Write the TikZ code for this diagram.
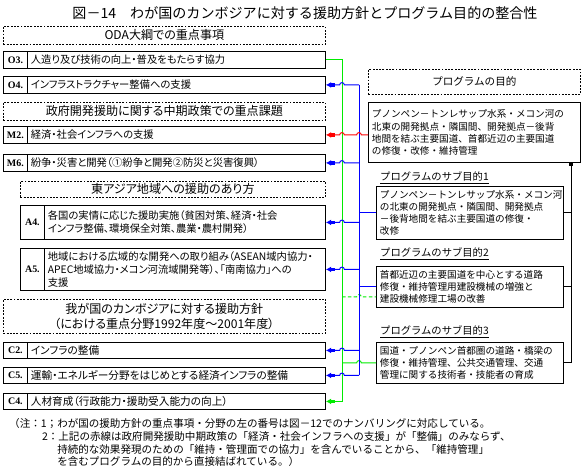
\documentclass[tikz,border=0pt]{standalone}
\usepackage{fontspec}
\setmainfont{Noto Sans CJK JP}
\newfontfamily\propfont[RawFeature=+palt]{Noto Sans CJK JP}
\newfontfamily\tagfont{Liberation Serif}
\usetikzlibrary{arrows.meta,calc}

\definecolor{linkgreen}{RGB}{0,235,0}
\definecolor{linkblue}{RGB}{0,0,255}
\definecolor{linkred}{RGB}{255,0,0}

\begin{document}
\begin{tikzpicture}[
    x=0.03cm, y=-0.03cm,
    head/.style={draw, dash pattern=on 1.6pt off 1.2pt, line width=0.6pt, anchor=north west, align=center, inner sep=0pt, font=\propfont\fontsize{10.3}{12.5}\selectfont},
    tag/.style={draw, line width=0.7pt, anchor=north west, minimum width=0.72cm, inner sep=0pt, font=\tagfont\bfseries\fontsize{8.5}{10}\selectfont},
    item/.style={draw, line width=0.7pt, anchor=north west, align=left, text width=#1, inner xsep=3pt, inner ysep=0pt, font=\propfont\fontsize{8.8}{11}\selectfont},
    item/.default=8.73cm,
    goal/.style={draw, line width=0.7pt, anchor=north west, align=left, text width=#1, inner xsep=3pt, inner ysep=0pt, font=\fontsize{8.2}{10.3}\selectfont},
    goal/.default=5.4cm,
    sublabel/.style={anchor=west, inner sep=0pt, font=\fontsize{8.8}{10}\selectfont},
    link/.style={line width=0.8pt, {Latex[length=4.5pt,width=5pt]Square[length=3pt,width=3pt]}-},
    hop/.style={line width=0.8pt}
]
    \useasboundingbox (0,0) rectangle (585,470);

    % Title
    \node[font=\fontsize{12}{14}\selectfont] (title) at (305,13) {図－14　わが国のカンボジアに対する援助方針とプログラム目的の整合性};

    % ODA charter
    \node[head, minimum width=9.66cm, minimum height=0.54cm] (odahead) at (3,26) {ODA大綱での重点事項};
    \node[tag, minimum height=0.51cm] (O3tag) at (3,51) {O3.};
    \node[item, minimum height=0.51cm] (O3) at (27,51) {人造り及び技術の向上・普及をもたらす協力};
    \node[tag, minimum height=0.51cm] (O4tag) at (3,76) {O4.};
    \node[item, minimum height=0.51cm] (O4) at (27,76) {インフラストラクチャー整備への支援};

    % Medium-term policy
    \node[head, minimum width=9.66cm, minimum height=0.54cm] (midhead) at (3,102) {政府開発援助に関する中期政策での重点課題};
    \node[tag, minimum height=0.51cm] (M2tag) at (3,126) {M2.};
    \node[item, minimum height=0.51cm] (M2) at (27,126) {経済・社会インフラへの支援};
    \node[tag, minimum height=0.51cm] (M6tag) at (3,154) {M6.};
    \node[item, minimum height=0.51cm] (M6) at (27,154) {紛争・災害と開発（①紛争と開発②防災と災害復興）};

    % East Asia
    \node[head, minimum width=9.15cm, minimum height=0.48cm] (asiahead) at (20,181) {東アジア地域への援助のあり方};
    \node[tag, minimum height=1.02cm] (A4tag) at (20,205) {A4.};
    \node[item=8.22cm, minimum height=1.02cm] (A4) at (44,205) {各国の実情に応じた援助実施（貧困対策、経済・社会\\インフラ整備、環境保全対策、農業・農村開発）};
    \node[tag, minimum height=1.26cm] (A5tag) at (20,248) {A5.};
    \node[item=8.22cm, minimum height=1.26cm] (A5) at (44,248) {地域における広域的な開発への取り組み（ASEAN域内協力・\\APEC地域協力・メコン河流域開発等）、「南南協力」への\\支援};

    % Cambodia policy
    \node[head, minimum width=9.66cm, minimum height=1.02cm] (camhead) at (3,299) {我が国のカンボジアに対する援助方針\\（における重点分野1992年度～2001年度）};
    \node[tag, minimum height=0.48cm] (C2tag) at (3,342) {C2.};
    \node[item, minimum height=0.48cm, font=\propfont\fontsize{9.1}{11}\selectfont] (C2) at (27,342) {インフラの整備};
    \node[tag, minimum height=0.48cm] (C5tag) at (3,367) {C5.};
    \node[item, minimum height=0.48cm, font=\propfont\fontsize{9.1}{11}\selectfont] (C5) at (27,367) {運輸・エネルギー分野をはじめとする経済インフラの整備};
    \node[tag, minimum height=0.48cm] (C4tag) at (3,393) {C4.};
    \node[item, minimum height=0.48cm, font=\propfont\fontsize{9.1}{11}\selectfont] (C4) at (27,393) {人材育成（行政能力・援助受入能力の向上）};

    % Program goals
    \node[head, minimum width=6.36cm, minimum height=0.75cm, font=\fontsize{9}{11}\selectfont] (goalhead) at (368,69) {プログラムの目的};
    \node[goal=6.15cm, minimum height=1.8cm] (main) at (368,102) {プノンペン－トンレサップ水系・メコン河の\\北東の開発拠点・隣国間、開発拠点－後背\\地間を結ぶ主要国道、首都近辺の主要国道\\の修復・改修・維持管理};
    \node[sublabel] (sub1label) at (380,178) {\underline{プログラムのサブ目的1}};
    \node[goal, minimum height=1.59cm] (sub1) at (376,186) {プノンペン－トンレサップ水系・メコン河\\の北東の開発拠点・隣国間、開発拠点\\－後背地間を結ぶ主要国道の修復・\\改修};
    \node[sublabel] (sub2label) at (380,254) {\underline{プログラムのサブ目的2}};
    \node[goal, minimum height=1.23cm] (sub2) at (376,266) {首都近辺の主要国道を中心とする道路\\修復・維持管理用建設機械の増強と\\建設機械修理工場の改善};
    \node[sublabel] (sub3label) at (380,332) {\underline{プログラムのサブ目的3}};
    \node[goal, minimum height=1.23cm] (sub3) at (376,342) {国道・プノンペン首都圏の道路・橋梁の\\修復・維持管理、公共交通管理、交通\\管理に関する技術者・技能者の育成};

    % Notes
    \node[anchor=north west, align=left, inner sep=0pt, font=\fontsize{9}{11}\selectfont] (notes) at (9,418) {（注：1；わが国の援助方針の重点事項・分野の左の番号は図－12でのナンバリングに対応している。\\
        \hspace*{28pt}2：上記の赤線は政府開発援助中期政策の「経済・社会インフラへの支援」が「整備」のみならず、\\
        \hspace*{41pt}持続的な効果発現のための「維持・管理面での協力」を含んでいることから、「維持管理」\\
        \hspace*{41pt}を含むプログラムの目的から直接結ばれている。）};

    % Bus lines
    \coordinate (gbus) at (342,0);
    \coordinate (bbus) at (359,0);
    \coordinate (rbus) at (571,0);
    \coordinate (sub2in) at ([yshift=-0.3cm]sub2.west);

    % Green links
    \draw[link, linkgreen, -{Square[length=3pt,width=3pt]Latex[length=4.5pt,width=5pt]}] (O3.east) -| (C4.east -| gbus) -- (C4.east);
    \draw[hop, linkgreen] (sub3.west -| gbus) -- ($(sub3.west -| bbus)+(-0.07cm,0)$) arc[start angle=180, end angle=0, radius=0.07cm] -- (sub3.west);
    \draw[hop, linkgreen, dash pattern=on 3pt off 2pt] (sub2in -| gbus) -- ($(sub2in -| bbus)+(-0.07cm,0)$) arc[start angle=180, end angle=0, radius=0.07cm] -- (sub2in);

    % Blue links
    \draw[hop, linkblue] (O4.east -| bbus) -- (C5.east -| bbus);
    \draw[link, linkblue] (O4.east) -- ($(O4.east -| gbus)+(-0.07cm,0)$) arc[start angle=180, end angle=0, radius=0.07cm] -- (O4.east -| bbus);
    \draw[link, linkblue] (M6.east) -- ($(M6.east -| gbus)+(-0.07cm,0)$) arc[start angle=180, end angle=0, radius=0.07cm] -- (M6.east -| bbus);
    \draw[link, linkblue] (A4.east) -- ($(A4.east -| gbus)+(-0.07cm,0)$) arc[start angle=180, end angle=0, radius=0.07cm] -- (A4.east -| bbus);
    \draw[link, linkblue] (A5.east) -- ($(A5.east -| gbus)+(-0.07cm,0)$) arc[start angle=180, end angle=0, radius=0.07cm] -- (A5.east -| bbus);
    \draw[link, linkblue] (C2.east) -- ($(C2.east -| gbus)+(-0.07cm,0)$) arc[start angle=180, end angle=0, radius=0.07cm] -- (C2.east -| bbus);
    \draw[link, linkblue] (C5.east) -- ($(C5.east -| gbus)+(-0.07cm,0)$) arc[start angle=180, end angle=0, radius=0.07cm] -- (C5.east -| bbus);
    \draw[hop, linkblue] (sub1.west -| bbus) -- (sub1.west);
    \draw[hop, linkblue] (sub2.west -| bbus) -- (sub2.west);

    % Red link
    \draw[link, linkred] (M2.east) -- ($(M2.east -| gbus)+(-0.07cm,0)$) arc[start angle=180, end angle=0, radius=0.07cm] -- ($(M2.east -| bbus)+(-0.07cm,0)$) arc[start angle=180, end angle=0, radius=0.07cm] -- (M2.east -| main.west);

    % Goal tree
    \draw[line width=0.8pt, {Square[length=3pt,width=3pt]}-] (main.south -| rbus) |- (sub3.east);
    \draw[line width=0.8pt] (sub1.east) -- (sub1.east -| rbus);
    \draw[line width=0.8pt] (sub2.east) -- (sub2.east -| rbus);
\end{tikzpicture}
\end{document}
